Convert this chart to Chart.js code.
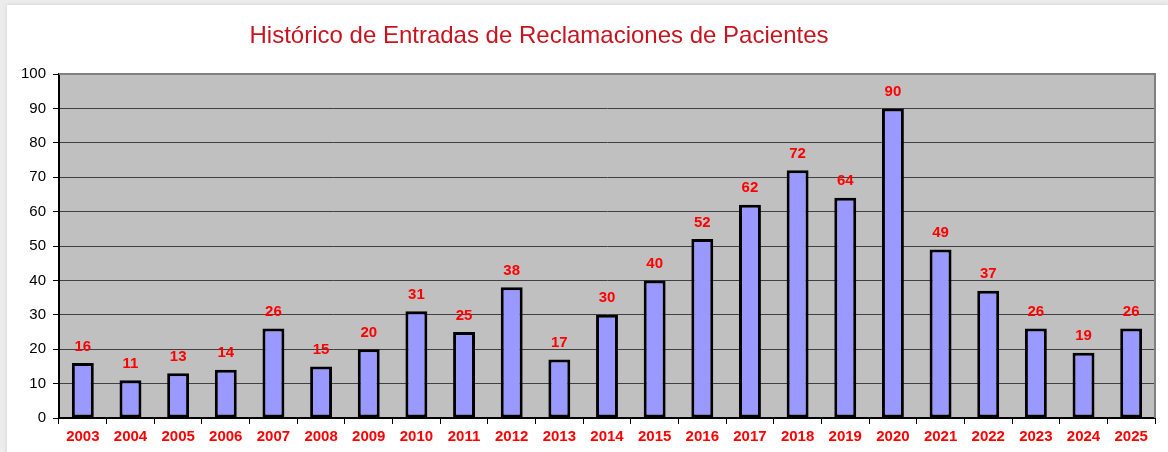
<!DOCTYPE html>
<html><head><meta charset="utf-8">
<script src="https://cdn.jsdelivr.net/npm/chart.js@4.4.1/dist/chart.umd.min.js"></script>
<style>
html,body{margin:0;padding:0;background:#ececec;}
#wrap{position:absolute;left:0;top:0;width:1168px;height:452px;}
#card{position:absolute;left:7px;top:5px;width:1161px;height:447px;background:#fff;box-shadow:0 0 4px rgba(0,0,0,0.12);}
canvas{position:absolute;left:0;top:0;}
</style></head>
<body>
<div id="wrap"><div id="card"></div><canvas id="c" width="1168" height="452"></canvas></div>
<script>
const titleText = "Histórico de Entradas de Reclamaciones de Pacientes";
const years = ["2003","2004","2005","2006","2007","2008","2009","2010","2011","2012","2013","2014","2015","2016","2017","2018","2019","2020","2021","2022","2023","2024","2025"];
const entradas = [16,11,13,14,26,15,20,31,25,38,17,30,40,52,62,72,64,90,49,37,26,19,26];
const yTicks = [0,10,20,30,40,50,60,70,80,90,100];

const plotBg = {
  id:'plotBg',
  beforeDraw(chart){
    const {ctx, chartArea:a} = chart;
    ctx.save();
    ctx.fillStyle = '#c0c0c0';
    ctx.fillRect(a.left, a.top, a.right-a.left, a.bottom-a.top);
    ctx.restore();
  },
  afterDatasetsDraw(chart){
    const {ctx, chartArea:a} = chart;
    ctx.save();
    ctx.strokeStyle = '#808080';
    ctx.lineWidth = 2;
    ctx.beginPath();
    ctx.moveTo(a.left, a.top); ctx.lineTo(a.right, a.top); ctx.lineTo(a.right, a.bottom);
    ctx.stroke();
    // title
    ctx.fillStyle = '#c8141e';
    ctx.font = '24px "Liberation Sans", Arial, sans-serif';
    ctx.textAlign = 'center';
    ctx.textBaseline = 'middle';
    ctx.fillText(titleText, 539, 36);
    // value labels
    const meta = chart.getDatasetMeta(0);
    ctx.fillStyle = '#ff0000';
    ctx.font = 'bold 15px "Liberation Sans", Arial, sans-serif';
    ctx.textBaseline = 'bottom';
    meta.data.forEach((bar,i)=>{
      ctx.fillText(String(entradas[i]), bar.x, bar.y - 9);
    });
    ctx.restore();
  }
};

new Chart(document.getElementById('c'), {
  type:'bar',
  data:{labels:years, datasets:[{data:entradas, backgroundColor:'#9999ff', borderColor:'#000000', borderWidth:3, borderSkipped:false, barPercentage:0.46, categoryPercentage:1}]},
  options:{
    responsive:false, animation:false,
    layout:{padding:{left:0,right:13,top:74,bottom:0}},
    plugins:{legend:{display:false}, tooltip:{enabled:false}},
    scales:{
      x:{
        offset:true,
        grid:{offset:true, drawOnChartArea:false, drawTicks:true, tickLength:6, color:'#000'},
        border:{color:'#000', width:2},
        ticks:{color:'#ff0000', font:{family:'"Liberation Sans", Arial, sans-serif', size:15, weight:'bold'}, padding:4, maxRotation:0, autoSkip:false},
        afterFit(s){ s.height = 34; }
      },
      y:{
        min:0, max:100,
        afterBuildTicks(s){ s.ticks = yTicks.map(v=>({value:v})); },
        grid:{color:'#404040', lineWidth:1, tickLength:6, tickColor:'#000'},
        border:{color:'#000', width:2},
        ticks:{color:'#000', font:{family:'"Liberation Sans", Arial, sans-serif', size:15}, padding:7},
        afterFit(s){ s.width = 59; }
      }
    }
  },
  plugins:[plotBg]
});
</script>
</body></html>
